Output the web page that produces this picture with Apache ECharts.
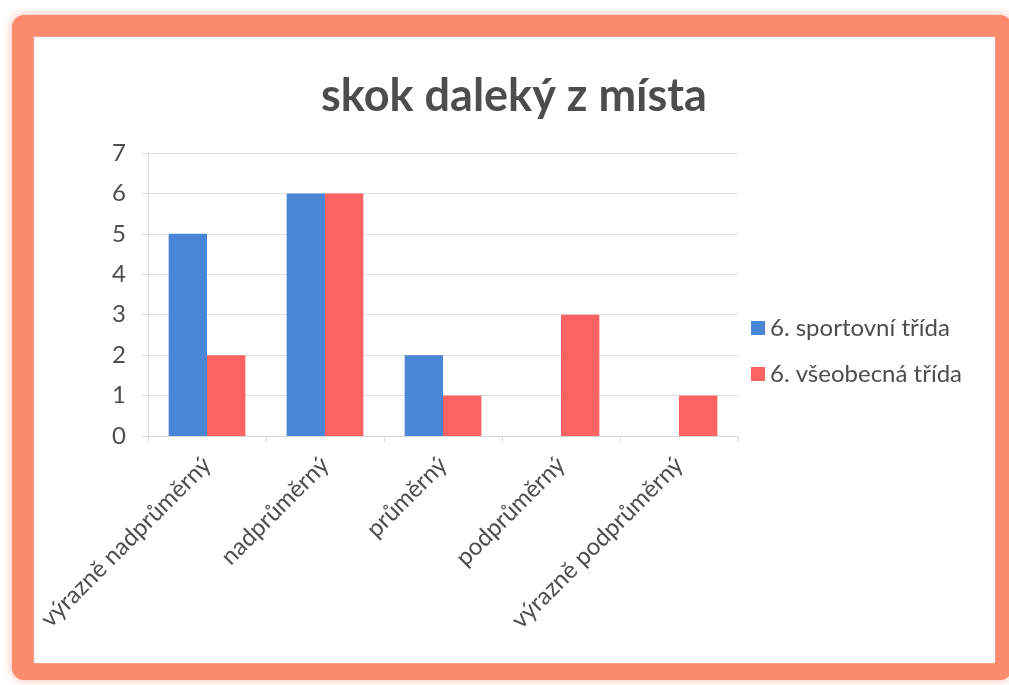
<!DOCTYPE html>
<html>
<head>
<meta charset="utf-8">
<title>skok daleký z místa</title>
<script src="https://cdn.jsdelivr.net/npm/echarts@6/dist/echarts.min.js"></script>
<style>
  html, body { margin: 0; padding: 0; background: #ffffff; }
  #chart { width: 1009px; height: 685px; }
</style>
</head>
<body>
<div id="chart"></div>
<script>
// Výsledky skoku dalekého z místa podle hodnocení
const categories = ['výrazně nadprůměrný', 'nadprůměrný', 'průměrný', 'podprůměrný', 'výrazně podprůměrný'];
const sportovni = [5, 6, 2, 0, 0];
const vseobecna = [2, 6, 1, 3, 1];
const seriesNames = ['6. sportovní třída', '6. všeobecná třída'];
const yTicks = { min: 0, max: 7, interval: 1 };

const FONT = 'Lato, "Open Sans", sans-serif';
const TEXT = '#4d4d4d';

const chart = echarts.init(document.getElementById('chart'), null, { renderer: 'canvas' });

chart.setOption({
  backgroundColor: '#ffffff',
  animation: false,
  title: {
    text: 'skok daleký z místa',
    left: 316,
    top: 69,
    padding: [5, 5, 5, 5],
    textStyle: { fontFamily: FONT, fontSize: 45, fontWeight: 'bold', color: TEXT }
  },
  graphic: [
    {
      // orange frame around the chart sheet
      type: 'rect',
      z: -2,
      shape: { x: 12, y: 15, width: 1000, height: 665, r: 12 },
      style: {
        fill: '#fc8b6d',
        shadowBlur: 10,
        shadowColor: 'rgba(252,139,109,0.6)'
      }
    },
    {
      // white sheet
      type: 'rect',
      z: -1,
      shape: { x: 34, y: 37, width: 961, height: 626 },
      style: { fill: '#ffffff', stroke: '#d6d6d6', lineWidth: 1, lineDash: [2, 2] }
    }
  ],
  legend: {
    orient: 'vertical',
    left: 746,
    top: 311,
    itemWidth: 14,
    itemHeight: 14,
    itemGap: 22,
    icon: 'rect',
    textStyle: { fontFamily: FONT, fontSize: 24, color: TEXT }
  },
  grid: { left: 148, right: 271, top: 153, bottom: 249, containLabel: false },
  xAxis: {
    type: 'category',
    data: categories,
    axisLine: { lineStyle: { color: '#d9d9d9' } },
    axisTick: { show: true, length: 6, lineStyle: { color: '#d9d9d9' } },
    axisLabel: {
      rotate: 45,
      margin: 25,
      interval: 0,
      fontFamily: FONT,
      fontSize: 24,
      color: TEXT
    }
  },
  yAxis: {
    type: 'value',
    min: yTicks.min,
    max: yTicks.max,
    interval: yTicks.interval,
    axisLine: { show: true, lineStyle: { color: '#d9d9d9' } },
    axisTick: { show: true, length: 6, lineStyle: { color: '#d9d9d9' } },
    splitLine: { lineStyle: { color: '#e0e0e0' } },
    axisLabel: { fontFamily: FONT, fontSize: 24, color: TEXT, margin: 22 }
  },
  series: [
    {
      name: seriesNames[0],
      type: 'bar',
      data: sportovni,
      barGap: '0%',
      barCategoryGap: '35%',
      itemStyle: { color: '#4a86d6' }
    },
    {
      name: seriesNames[1],
      type: 'bar',
      data: vseobecna,
      barGap: '0%',
      barCategoryGap: '35%',
      itemStyle: { color: '#fc6262' }
    }
  ]
});
</script>
</body>
</html>
